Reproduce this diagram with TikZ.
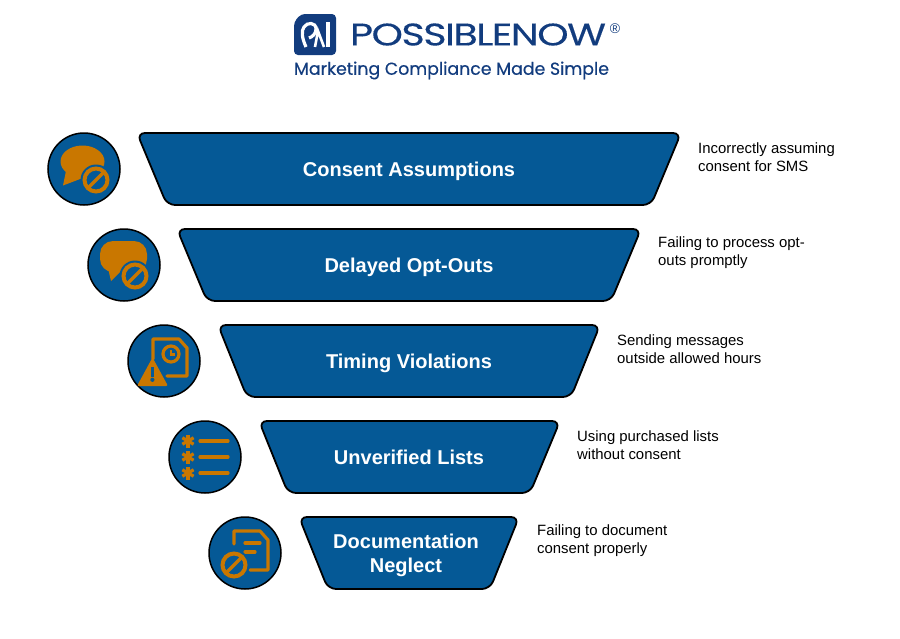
\documentclass[tikz,border=0pt]{standalone}
\usepackage{fontspec}
\setmainfont{Liberation Sans}
\newfontfamily\logofont[LetterSpace=-4,FakeBold=0.2]{Poppins}
\newfontfamily\tagfont[FakeBold=0.4]{Poppins}
\usepackage{tikz}

\definecolor{bandblue}{HTML}{055996}
\definecolor{iconorange}{HTML}{C97700}
\definecolor{logoblue}{HTML}{123C7E}

\tikzset{
  band/.style={draw=black, line width=1.8pt, fill=bandblue, rounded corners=8pt},
  badge/.style={circle, draw=black, line width=1.5pt, fill=bandblue, minimum size=72pt, inner sep=0pt},
  title/.style={text=white, font=\fontsize{20}{24}\selectfont\bfseries, align=center},
  note/.style={anchor=west, inner sep=0pt, align=left, font=\fontsize{14.9}{18}\selectfont},
  stroke/.style={draw=iconorange, line width=3.2pt, line cap=round, line join=round},
  ban/.pic={
    \fill[bandblue] (0,0) circle (15.5);
    \draw[iconorange, line width=4pt] (0,0) circle (11.5);
    \draw[iconorange, line width=3.4pt] (-7.5,7.5) -- (7.5,-7.5);
  }
}

\begin{document}
\begin{tikzpicture}[x=1pt, y=-1pt]
\useasboundingbox (0,0) rectangle (900,638);

% logo
\fill[logoblue, rounded corners=4pt] (294,55) -- (294,22) -- (301,14) -- (336,14) -- (336,55) -- cycle;
\draw[white, line width=3.2pt] (306,47) .. controls (302,38) and (301,31) .. (304,27) .. controls (307,22) and (316,22) .. (316,29) .. controls (316,34) and (312,37) .. (309,38);
\draw[white, line width=2.6pt] (315,47) -- (318,31) -- (324,47);
\draw[white, line width=4.4pt] (328,22) -- (328,47);
\node (wordmark) at (478,34.5) [inner sep=0pt, text=logoblue] {\resizebox{256pt}{22pt}{\logofont\fontsize{30}{30}\selectfont POSSIBLENOW}};
\node (regmark) at (615,29) [inner sep=0pt, text=logoblue] {\fontsize{14}{14}\selectfont ®};
\node (tagline) at (451.5,70.5) [inner sep=0pt, text=logoblue] {\resizebox{315pt}{!}{\tagfont\fontsize{15}{18}\selectfont Marketing Compliance Made Simple}};

% funnel
\draw[band] (137,133) -- (681,133) -- (651,205) -- (167,205) -- cycle;
\draw[band] (177,229) -- (641,229) -- (611,301) -- (207,301) -- cycle;
\draw[band] (218,325) -- (600,325) -- (571,397) -- (247,397) -- cycle;
\draw[band] (259,421) -- (560,421) -- (530,493) -- (288,493) -- cycle;
\draw[band] (299,517) -- (519,517) -- (490,589) -- (328,589) -- cycle;

\node[title] (t1) at (409,171) {Consent Assumptions};
\node[title] (t2) at (409,267) {Delayed Opt-Outs};
\node[title] (t3) at (409,363) {Timing Violations};
\node[title] (t4) at (409,457) {Unverified Lists};
\node[title] (t5) at (406,555) {Documentation\\Neglect};

\node[note] (n1) at (698,157) {Incorrectly assuming\\consent for SMS};
\node[note] (n2) at (658,253) {Failing to process opt-\\outs promptly};
\node[note] (n3) at (617,349) {Sending messages\\outside allowed hours};
\node[note] (n4) at (577,445) {Using purchased lists\\without consent};
\node[note] (n5) at (537,541) {Failing to document\\consent properly};

\node[badge] (c1) at (84,169) {};
\node[badge] (c2) at (124,265) {};
\node[badge] (c3) at (164,361) {};
\node[badge] (c4) at (205,457) {};
\node[badge] (c5) at (245,553) {};

% consent
\begin{scope}[shift={(c1)}]
\fill[iconorange] (-1.5,-7.5) ellipse (22 and 16);
\fill[iconorange] (-18,2) -- (-21,16.5) -- (4,7) -- cycle;
\pic at (12,11) {ban};
\end{scope}

% opt-outs
\begin{scope}[shift={(c2)}]
\fill[iconorange, rounded corners=13pt] (-24,-24) rectangle (23,7);
\fill[iconorange] (-16,3) -- (-13,16) -- (0,3) -- cycle;
\pic at (11,11) {ban};
\end{scope}

% timing
\begin{scope}[shift={(c3)}]
\draw[stroke] (-11,-2) -- (-11,-22) -- (15,-22) -- (23,-13) -- (23,15) -- (3,15);
\draw[stroke] (7,-7) circle (8);
\draw[iconorange, line width=2.2pt] (7,-11) -- (7,-6.5) -- (11,-6.5);
\fill[iconorange, rounded corners=2pt] (-11.5,-3.5) -- (4,25) -- (-27,25) -- cycle;
\fill[bandblue] (-13.4,6) rectangle (-9.8,15.5);
\fill[bandblue] (-11.6,18.8) circle (2.1);
\end{scope}

% lists
\begin{scope}[shift={(c4)}]
\foreach \y in {-16,0,16} {
  \draw[stroke] (-5,\y) -- (23,\y);
  \foreach \a in {30,90,150} {
    \draw[iconorange, line width=3.2pt] (-17,\y) ++(\a:6.5) -- ++(\a+180:13);
  }
}
\end{scope}

% documentation
\begin{scope}[shift={(c5)}]
\draw[stroke] (-11,-9) -- (-11,-22) -- (15,-22) -- (23,-13) -- (23,17) -- (5,17);
\draw[stroke] (0,-10) -- (15,-10);
\draw[stroke] (0,-1) -- (10,-1);
\pic at (-11,12) {ban};
\end{scope}
\end{tikzpicture}
\end{document}
